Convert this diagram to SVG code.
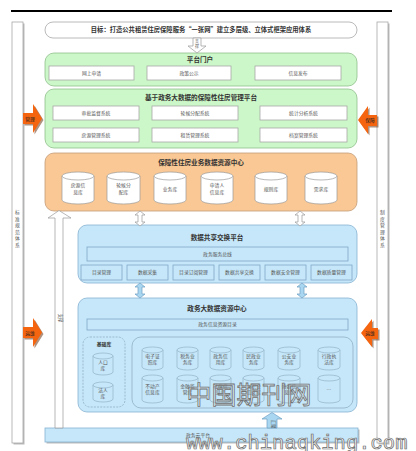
<svg xmlns="http://www.w3.org/2000/svg" width="416" height="451" viewBox="0 0 416 451">
<defs>
<style>
text{font-family:"Noto Sans CJK SC","Noto Sans",sans-serif;text-anchor:middle;fill:#333}
.t{font-size:6.6px;font-weight:bold}
.s{font-size:4.8px;fill:#555}
.g{fill:#ccf7c8;stroke:#8fbf8b;stroke-width:0.8}
.o{fill:#f9c894;stroke:#c49c78;stroke-width:0.8}
.b{fill:#c6e7f9;stroke:#86b3d2;stroke-width:0.8}
.w{fill:#fff;stroke:#a8a8a8;stroke-width:0.8}
.wb{fill:#c6e7f9;stroke:#7fa9c8;stroke-width:0.8}
.cw{fill:#fff;stroke:#999;stroke-width:0.7}
.cb{fill:#c6e7f9;stroke:#8aa8be;stroke-width:0.6}
.ha{fill:#fff;stroke:#999;stroke-width:0.7}
.ba{fill:#a9d7f2;stroke:#6f9fc2;stroke-width:0.7}
.oa{fill:#f5640f}
.os{fill:#7a4a2a;opacity:0.6}
.sh{fill:#bbb}
.dash{fill:none;stroke:#8aa8be;stroke-width:0.7;stroke-dasharray:2 1.2}
.wm{font-size:25px;fill:#fff;fill-opacity:0.35;stroke:#707070;stroke-width:0.8}
.url{font-family:"Liberation Mono",monospace;font-size:20.5px;text-anchor:start;fill:#f4f4f4;stroke:#6a6a6a;stroke-width:0.7}
</style>
</defs>
<rect width="416" height="451" fill="#fff"/>
<line x1="11" y1="11" x2="392" y2="11" stroke="#000" stroke-width="2"/>

<g id="side-left">
<rect x="13.5" y="23.5" width="11" height="421" class="sh"/>
<rect x="12" y="22" width="11" height="421" class="w"/>
<text class="s" x="17.5" y="214"><tspan x="17.5" dy="0">标</tspan><tspan x="17.5" dy="6.5">准</tspan><tspan x="17.5" dy="6.5">规</tspan><tspan x="17.5" dy="6.5">范</tspan><tspan x="17.5" dy="6.5">体</tspan><tspan x="17.5" dy="6.5">系</tspan></text>
</g>
<g id="side-right">
<rect x="378.5" y="23.5" width="11" height="421" class="sh"/>
<rect x="377" y="22" width="11" height="421" class="w"/>
<text class="s" x="382.5" y="214"><tspan x="382.5" dy="0">制</tspan><tspan x="382.5" dy="6.5">度</tspan><tspan x="382.5" dy="6.5">管</tspan><tspan x="382.5" dy="6.5">理</tspan><tspan x="382.5" dy="6.5">体</tspan><tspan x="382.5" dy="6.5">系</tspan></text>
</g>

<g id="goal">
<rect x="45" y="22" width="312" height="16" rx="8" class="w"/>
<text class="t" x="201" y="32.3" style="font-size:6.3px">目标：打造公共租赁住房保障服务“一张网”建立多层级、立体式框架应用体系</text>
</g>

<g id="portal">
<rect x="45" y="53" width="312" height="33" rx="9" class="g"/>
<text class="t" x="200" y="61.5">平台门户</text>
<rect x="49" y="66" width="85" height="14" class="w"/>
<text class="s" x="91.5" y="74.7">网上申请</text>
<rect x="147" y="66" width="84" height="14" class="w"/>
<text class="s" x="189" y="74.7">政策公示</text>
<rect x="255" y="66" width="86" height="14" class="w"/>
<text class="s" x="298" y="74.7">信息发布</text>
</g>

<g id="platform">
<rect x="45" y="89" width="312" height="59" rx="9" class="g"/>
<text class="t" x="201" y="99.5">基于政务大数据的保障性住房管理平台</text>
<rect x="53" y="106" width="86" height="14" class="w"/>
<text class="s" x="96" y="114.7">审批监督系统</text>
<rect x="152" y="106" width="86" height="14" class="w"/>
<text class="s" x="195" y="114.7">轮候分配系统</text>
<rect x="260" y="106" width="87" height="14" class="w"/>
<text class="s" x="303.5" y="114.7">统计分析系统</text>
<rect x="53" y="128" width="86" height="14" class="w"/>
<text class="s" x="96" y="136.7">房源管理系统</text>
<rect x="152" y="128" width="86" height="14" class="w"/>
<text class="s" x="195" y="136.7">租赁管理系统</text>
<rect x="260" y="128" width="87" height="14" class="w"/>
<text class="s" x="303.5" y="136.7">档案管理系统</text>
</g>

<g id="resource-center">
<rect x="45" y="153" width="312" height="58" rx="9" class="o"/>
<text class="t" x="201" y="165">保障性住房业务数据资源中心</text>
<g id="db-fangyuan"><path d="M62,176 A16,4 0 0 1 94,176 V200 A16,4 0 0 1 62,200 Z" class="cw"/><path d="M62,176 A16,4 0 0 0 94,176" class="cw"/><text class="s" x="78" y="187">房源信</text><text class="s" x="78" y="194">息库</text></g>
<g id="db-lunhou"><path d="M107,176 A16.5,4 0 0 1 140,176 V200 A16.5,4 0 0 1 107,200 Z" class="cw"/><path d="M107,176 A16.5,4 0 0 0 140,176" class="cw"/><text class="s" x="123.5" y="187">轮候分</text><text class="s" x="123.5" y="194">配库</text></g>
<g id="db-yewu"><path d="M154,176 A16,4 0 0 1 186,176 V200 A16,4 0 0 1 154,200 Z" class="cw"/><path d="M154,176 A16,4 0 0 0 186,176" class="cw"/><text class="s" x="170" y="190.5">业务库</text></g>
<g id="db-shenqing"><path d="M201,176 A16,4 0 0 1 233,176 V200 A16,4 0 0 1 201,200 Z" class="cw"/><path d="M201,176 A16,4 0 0 0 233,176" class="cw"/><text class="s" x="217" y="187">申请人</text><text class="s" x="217" y="194">信息库</text></g>
<g id="db-guize"><path d="M255,176 A16,4 0 0 1 287,176 V200 A16,4 0 0 1 255,200 Z" class="cw"/><path d="M255,176 A16,4 0 0 0 287,176" class="cw"/><text class="s" x="271" y="190.5">规则库</text></g>
<g id="db-xuqiu"><path d="M305,176 A16,4 0 0 1 337,176 V200 A16,4 0 0 1 305,200 Z" class="cw"/><path d="M305,176 A16,4 0 0 0 337,176" class="cw"/><text class="s" x="321" y="190.5">需求库</text></g>
</g>

<g id="exchange">
<rect x="78" y="225" width="279" height="58" rx="9" class="b"/>
<text class="t" x="217" y="239.5">数据共享交换平台</text>
<rect x="87" y="247" width="261" height="14" class="wb"/>
<text class="s" x="217.5" y="255.7">政务服务总线</text>
<rect x="81" y="265" width="41" height="15" class="wb"/>
<text class="s" x="101.5" y="274.2">目录管理</text>
<rect x="127" y="265" width="41" height="15" class="wb"/>
<text class="s" x="147.5" y="274.2">数据采集</text>
<rect x="173" y="265" width="41" height="15" class="wb"/>
<text class="s" x="193.5" y="274.2">目录订阅管理</text>
<rect x="219" y="265" width="41" height="15" class="wb"/>
<text class="s" x="239.5" y="274.2">数据共享交换</text>
<rect x="265" y="265" width="41" height="15" class="wb"/>
<text class="s" x="285.5" y="274.2">数据安全管理</text>
<rect x="311" y="265" width="41" height="15" class="wb"/>
<text class="s" x="331.5" y="274.2">数据质量管理</text>
</g>

<g id="bigdata-center">
<rect x="78" y="298" width="279" height="114" rx="9" class="b"/>
<text class="t" x="217" y="311">政务大数据资源中心</text>
<rect x="87" y="319" width="261" height="11" class="wb"/>
<text class="s" x="217.5" y="326.3">政务信息资源目录</text>
<g id="base-lib">
<rect x="83" y="337" width="42" height="70" rx="7" class="dash"/>
<text class="s" x="104" y="346" style="font-weight:bold;fill:#333">基础库</text>
<g id="db-renkou"><path d="M93,356 A10,3 0 0 1 113,356 V372 A10,3 0 0 1 93,372 Z" class="cb"/><path d="M93,356 A10,3 0 0 0 113,356" class="cb"/><text class="s" x="103" y="364">人口</text><text class="s" x="103" y="370">库</text></g>
<g id="db-faren"><path d="M93,385 A10,3 0 0 1 113,385 V399 A10,3 0 0 1 93,399 Z" class="cb"/><path d="M93,385 A10,3 0 0 0 113,385" class="cb"/><text class="s" x="103" y="392">法人</text><text class="s" x="103" y="398">库</text></g>
</g>
<g id="topic-lib">
<rect x="132" y="337" width="221" height="71" rx="9" fill="none" stroke="#8aa8be" stroke-width="0.7"/>
<g><path d="M142,350 A10.5,3 0 0 1 163,350 V367 A10.5,3 0 0 1 142,367 Z" class="cb"/><path d="M142,350 A10.5,3 0 0 0 163,350" class="cb"/><text class="s" x="152.5" y="357.5">电子证</text><text class="s" x="152.5" y="363.5">照库</text></g>
<g><path d="M177,350 A10.5,3 0 0 1 198,350 V367 A10.5,3 0 0 1 177,367 Z" class="cb"/><path d="M177,350 A10.5,3 0 0 0 198,350" class="cb"/><text class="s" x="187.5" y="357.5">税务业</text><text class="s" x="187.5" y="363.5">务库</text></g>
<g><path d="M210,350 A10.5,3 0 0 1 231,350 V367 A10.5,3 0 0 1 210,367 Z" class="cb"/><path d="M210,350 A10.5,3 0 0 0 231,350" class="cb"/><text class="s" x="220.5" y="357.5">政务信</text><text class="s" x="220.5" y="363.5">用库</text></g>
<g><path d="M243,350 A10.5,3 0 0 1 264,350 V367 A10.5,3 0 0 1 243,367 Z" class="cb"/><path d="M243,350 A10.5,3 0 0 0 264,350" class="cb"/><text class="s" x="253.5" y="357.5">民政业</text><text class="s" x="253.5" y="363.5">务库</text></g>
<g><path d="M278,350 A11,3 0 0 1 300,350 V367 A11,3 0 0 1 278,367 Z" class="cb"/><path d="M278,350 A11,3 0 0 0 300,350" class="cb"/><text class="s" x="289" y="357.5">公安业</text><text class="s" x="289" y="363.5">务库</text></g>
<g><path d="M318,350 A11,3 0 0 1 340,350 V367 A11,3 0 0 1 318,367 Z" class="cb"/><path d="M318,350 A11,3 0 0 0 340,350" class="cb"/><text class="s" x="329" y="357.5">行政执</text><text class="s" x="329" y="363.5">法库</text></g>
<g><path d="M142,378 A10.5,3 0 0 1 163,378 V400 A10.5,3 0 0 1 142,400 Z" class="cb"/><path d="M142,378 A10.5,3 0 0 0 163,378" class="cb"/><text class="s" x="152.5" y="388">不动产</text><text class="s" x="152.5" y="394">信息库</text></g>
<g><path d="M177,378 A10.5,3 0 0 1 198,378 V400 A10.5,3 0 0 1 177,400 Z" class="cb"/><path d="M177,378 A10.5,3 0 0 0 198,378" class="cb"/><text class="s" x="187.5" y="388">金融监</text><text class="s" x="187.5" y="394">管库</text></g>
<g><path d="M210,378 A10.5,3 0 0 1 231,378 V400 A10.5,3 0 0 1 210,400 Z" class="cb"/><path d="M210,378 A10.5,3 0 0 0 231,378" class="cb"/><text class="s" x="220.5" y="388">社保信</text><text class="s" x="220.5" y="394">息库</text></g>
<g><path d="M243,378 A10.5,3 0 0 1 264,378 V400 A10.5,3 0 0 1 243,400 Z" class="cb"/><path d="M243,378 A10.5,3 0 0 0 264,378" class="cb"/><text class="s" x="253.5" y="388">公积金</text><text class="s" x="253.5" y="394">信息库</text></g>
<g><path d="M278,378 A11,3 0 0 1 300,378 V400 A11,3 0 0 1 278,400 Z" class="cb"/><path d="M278,378 A11,3 0 0 0 300,378" class="cb"/><text class="s" x="289" y="388">婚姻信</text><text class="s" x="289" y="394">息库</text></g>
<g><path d="M318,378 A11,3 0 0 1 340,378 V400 A11,3 0 0 1 318,400 Z" class="cb"/><path d="M318,378 A11,3 0 0 0 340,378" class="cb"/><text class="s" x="329" y="391">…</text></g>
</g>
</g>

<g id="infrastructure">
<rect x="46.5" y="429.5" width="313" height="14" class="sh"/>
<rect x="45" y="428" width="313" height="14" class="b"/>
<text class="s" x="198" y="436.8">政务云平台</text>
</g>

<g id="connectors">
<path d="M193,38 H201 V46 H206 L197,53 L188,46 H193 Z" class="ha"/>
<text class="s" x="197" y="43" style="font-size:4px">支</text>
<text class="s" x="197" y="47.5" style="font-size:4px">撑</text>
<path d="M55,428 V218 H48 L59,210.5 L71,218 H63 V428 Z" class="ha"/>
<text class="s" x="59" y="318" transform="rotate(90 59 318)" style="font-size:4.3px">支撑</text>
<path d="M140,211 L145,215 H142 V222 H145 L140,226 L135,222 H138 V215 H135 Z" class="ha"/>
<path d="M300,211 L305,215 H302 V222 H305 L300,226 L295,222 H298 V215 H295 Z" class="ha"/>
<path d="M140,283 L145,287 H142 V294 H145 L140,298 L135,294 H138 V287 H135 Z" class="ba"/>
<path d="M302,283 L307,287 H304 V294 H307 L302,298 L297,294 H300 V287 H297 Z" class="ba"/>
<path d="M267,428 V419 H262 L272,412.5 L282,419 H277 V428 Z" class="ba"/>
<text class="s" x="272" y="424" transform="rotate(90 272 424)" style="font-size:4.3px">汇聚</text>
</g>

<g id="side-arrows">
<path d="M24.5,114.5 H34.5 V105.5 L43.5,120 L34.5,134.5 V125.5 H24.5 Z" class="os"/>
<path d="M23,113 H33 V104 L42,118.5 L33,133 V124 H23 Z" class="oa"/>
<text class="s" x="30" y="120.5" style="fill:#222">管理</text>
<path d="M378.5,116.5 H369.5 V107.5 L359.5,121.5 L369.5,135.5 V127.5 H378.5 Z" class="os"/>
<path d="M377,115 H368 V106 L358,120 L368,134 V126 H377 Z" class="oa"/>
<text class="s" x="370" y="122" style="fill:#222">保障</text>
<path d="M24.5,328.5 H34.5 V319.5 L43.5,334 L34.5,348.5 V339.5 H24.5 Z" class="os"/>
<path d="M23,327 H33 V318 L42,332.5 L33,347 V338 H23 Z" class="oa"/>
<text class="s" x="30" y="334.5" style="fill:#222">运维</text>
<path d="M379.5,329.5 H373.5 V320.5 L362.5,334.5 L373.5,348.5 V340.5 H379.5 Z" class="os"/>
<path d="M378,328 H372 V319 L361,333 L372,347 V339 H378 Z" class="oa"/>
<text class="s" x="370" y="335" style="fill:#222">运维</text>
</g>

<g id="watermark">
<text class="wm" x="249" y="404">中国期刊网</text>
<text class="url" x="186" y="448.5">www.chinaqking.com</text>
</g>
</svg>
